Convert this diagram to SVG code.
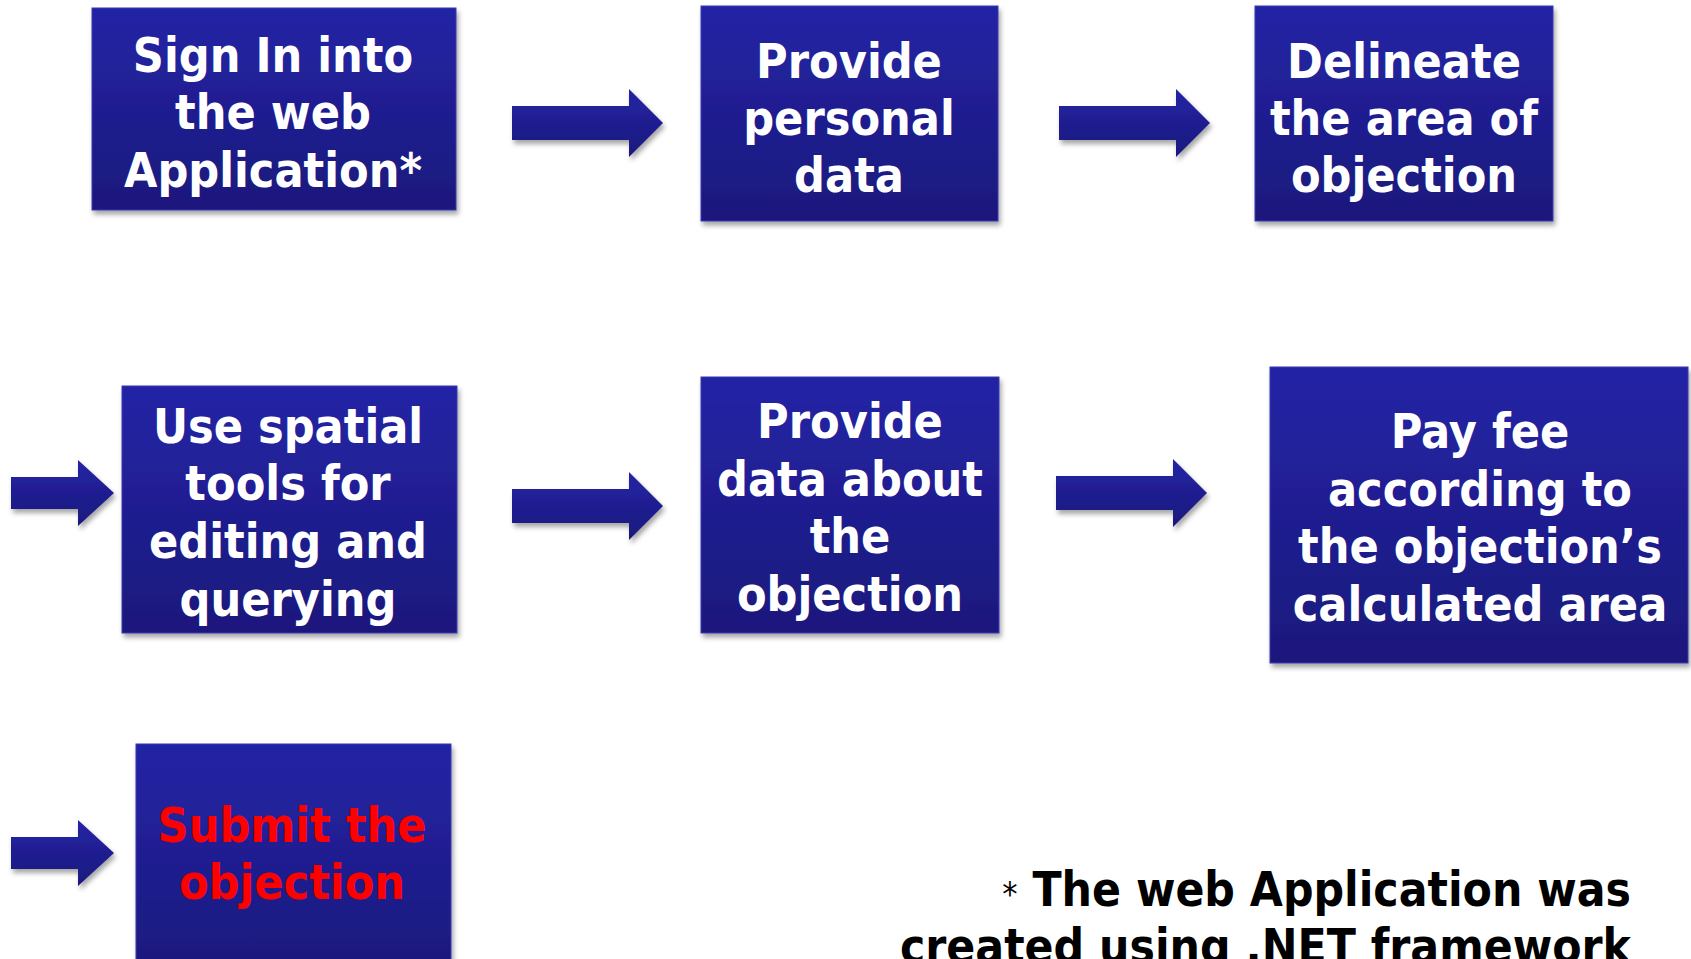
<svg xmlns="http://www.w3.org/2000/svg" width="1691" height="959" viewBox="0 0 1691 959">
<defs>
<linearGradient id="bg" x1="0" y1="0" x2="0" y2="1">
<stop offset="0" stop-color="#2424A6"/>
<stop offset="1" stop-color="#1B187C"/>
</linearGradient>
<filter id="sh" x="-10%" y="-10%" width="125%" height="130%">
<feDropShadow dx="2" dy="4" stdDeviation="2.5" flood-color="#000" flood-opacity="0.35"/>
</filter>
<path id="arr" d="M0,-17 H117 V-34 L151,0 L117,34 V17 H0 Z"/>
<path id="arrs" d="M0,-16 H67 V-33 L103,0 L67,33 V16 H0 Z"/>
</defs>
<style>
.box{fill:url(#bg);stroke:#3a3ab0;stroke-width:1;filter:url(#sh)}
.arrow{fill:url(#bg);filter:url(#sh)}
.t{font-family:"DejaVu Sans Condensed","DejaVu Sans",sans-serif;font-stretch:condensed;font-weight:bold;font-size:48px;fill:#fff;text-anchor:middle}
.red{fill:#FF0000}
.note{font-family:"DejaVu Sans Condensed","DejaVu Sans",sans-serif;font-stretch:condensed;font-weight:bold;font-size:47.5px;fill:#000;text-anchor:end}
</style>
<rect width="1691" height="959" fill="#fff"/>
<g id="connectors">
<use href="#arr" class="arrow" transform="translate(512,123)"/>
<use href="#arr" class="arrow" transform="translate(1059,123)"/>
<use href="#arrs" class="arrow" transform="translate(11,493)"/>
<use href="#arr" class="arrow" transform="translate(512,506)"/>
<use href="#arr" class="arrow" transform="translate(1056,493)"/>
<use href="#arrs" class="arrow" transform="translate(11,853)"/>
</g>
<g id="n1">
<rect class="box" x="92" y="8" width="364" height="202"/>
<text class="t" x="273" y="72">Sign In into</text>
<text class="t" x="273" y="129">the web</text>
<text class="t" x="273" y="187">Application*</text>
</g>
<g id="n2">
<rect class="box" x="701" y="6" width="297" height="215"/>
<text class="t" x="849" y="78">Provide</text>
<text class="t" x="849" y="135">personal</text>
<text class="t" x="849" y="192">data</text>
</g>
<g id="n3">
<rect class="box" x="1255" y="6" width="298" height="215"/>
<text class="t" x="1404" y="78">Delineate</text>
<text class="t" x="1404" y="135">the area of</text>
<text class="t" x="1404" y="192">objection</text>
</g>
<g id="n4">
<rect class="box" x="122" y="386" width="335" height="247"/>
<text class="t" x="288" y="443">Use spatial</text>
<text class="t" x="288" y="500">tools for</text>
<text class="t" x="288" y="558">editing and</text>
<text class="t" x="288" y="616">querying</text>
</g>
<g id="n5">
<rect class="box" x="701" y="377" width="298" height="256"/>
<text class="t" x="850" y="438">Provide</text>
<text class="t" x="850" y="496">data about</text>
<text class="t" x="850" y="553">the</text>
<text class="t" x="850" y="611">objection</text>
</g>
<g id="n6">
<rect class="box" x="1270" y="367" width="418" height="296"/>
<text class="t" x="1480" y="448" font-size="47">Pay fee</text>
<text class="t" x="1480" y="506" font-size="47">according to</text>
<text class="t" x="1480" y="563" font-size="47">the objection’s</text>
<text class="t" x="1480" y="621" font-size="47">calculated area</text>
</g>
<g id="n7">
<rect class="box" x="136" y="744" width="315" height="230"/>
<text class="t red" x="292" y="842">Submit the</text>
<text class="t red" x="292" y="899">objection</text>
</g>
<g id="note">
<text class="note" x="1631" y="906"><tspan font-weight="normal" font-size="34">*</tspan> The web Application was</text>
<text class="note" x="1631" y="963">created using .NET framework</text>
</g>
</svg>
